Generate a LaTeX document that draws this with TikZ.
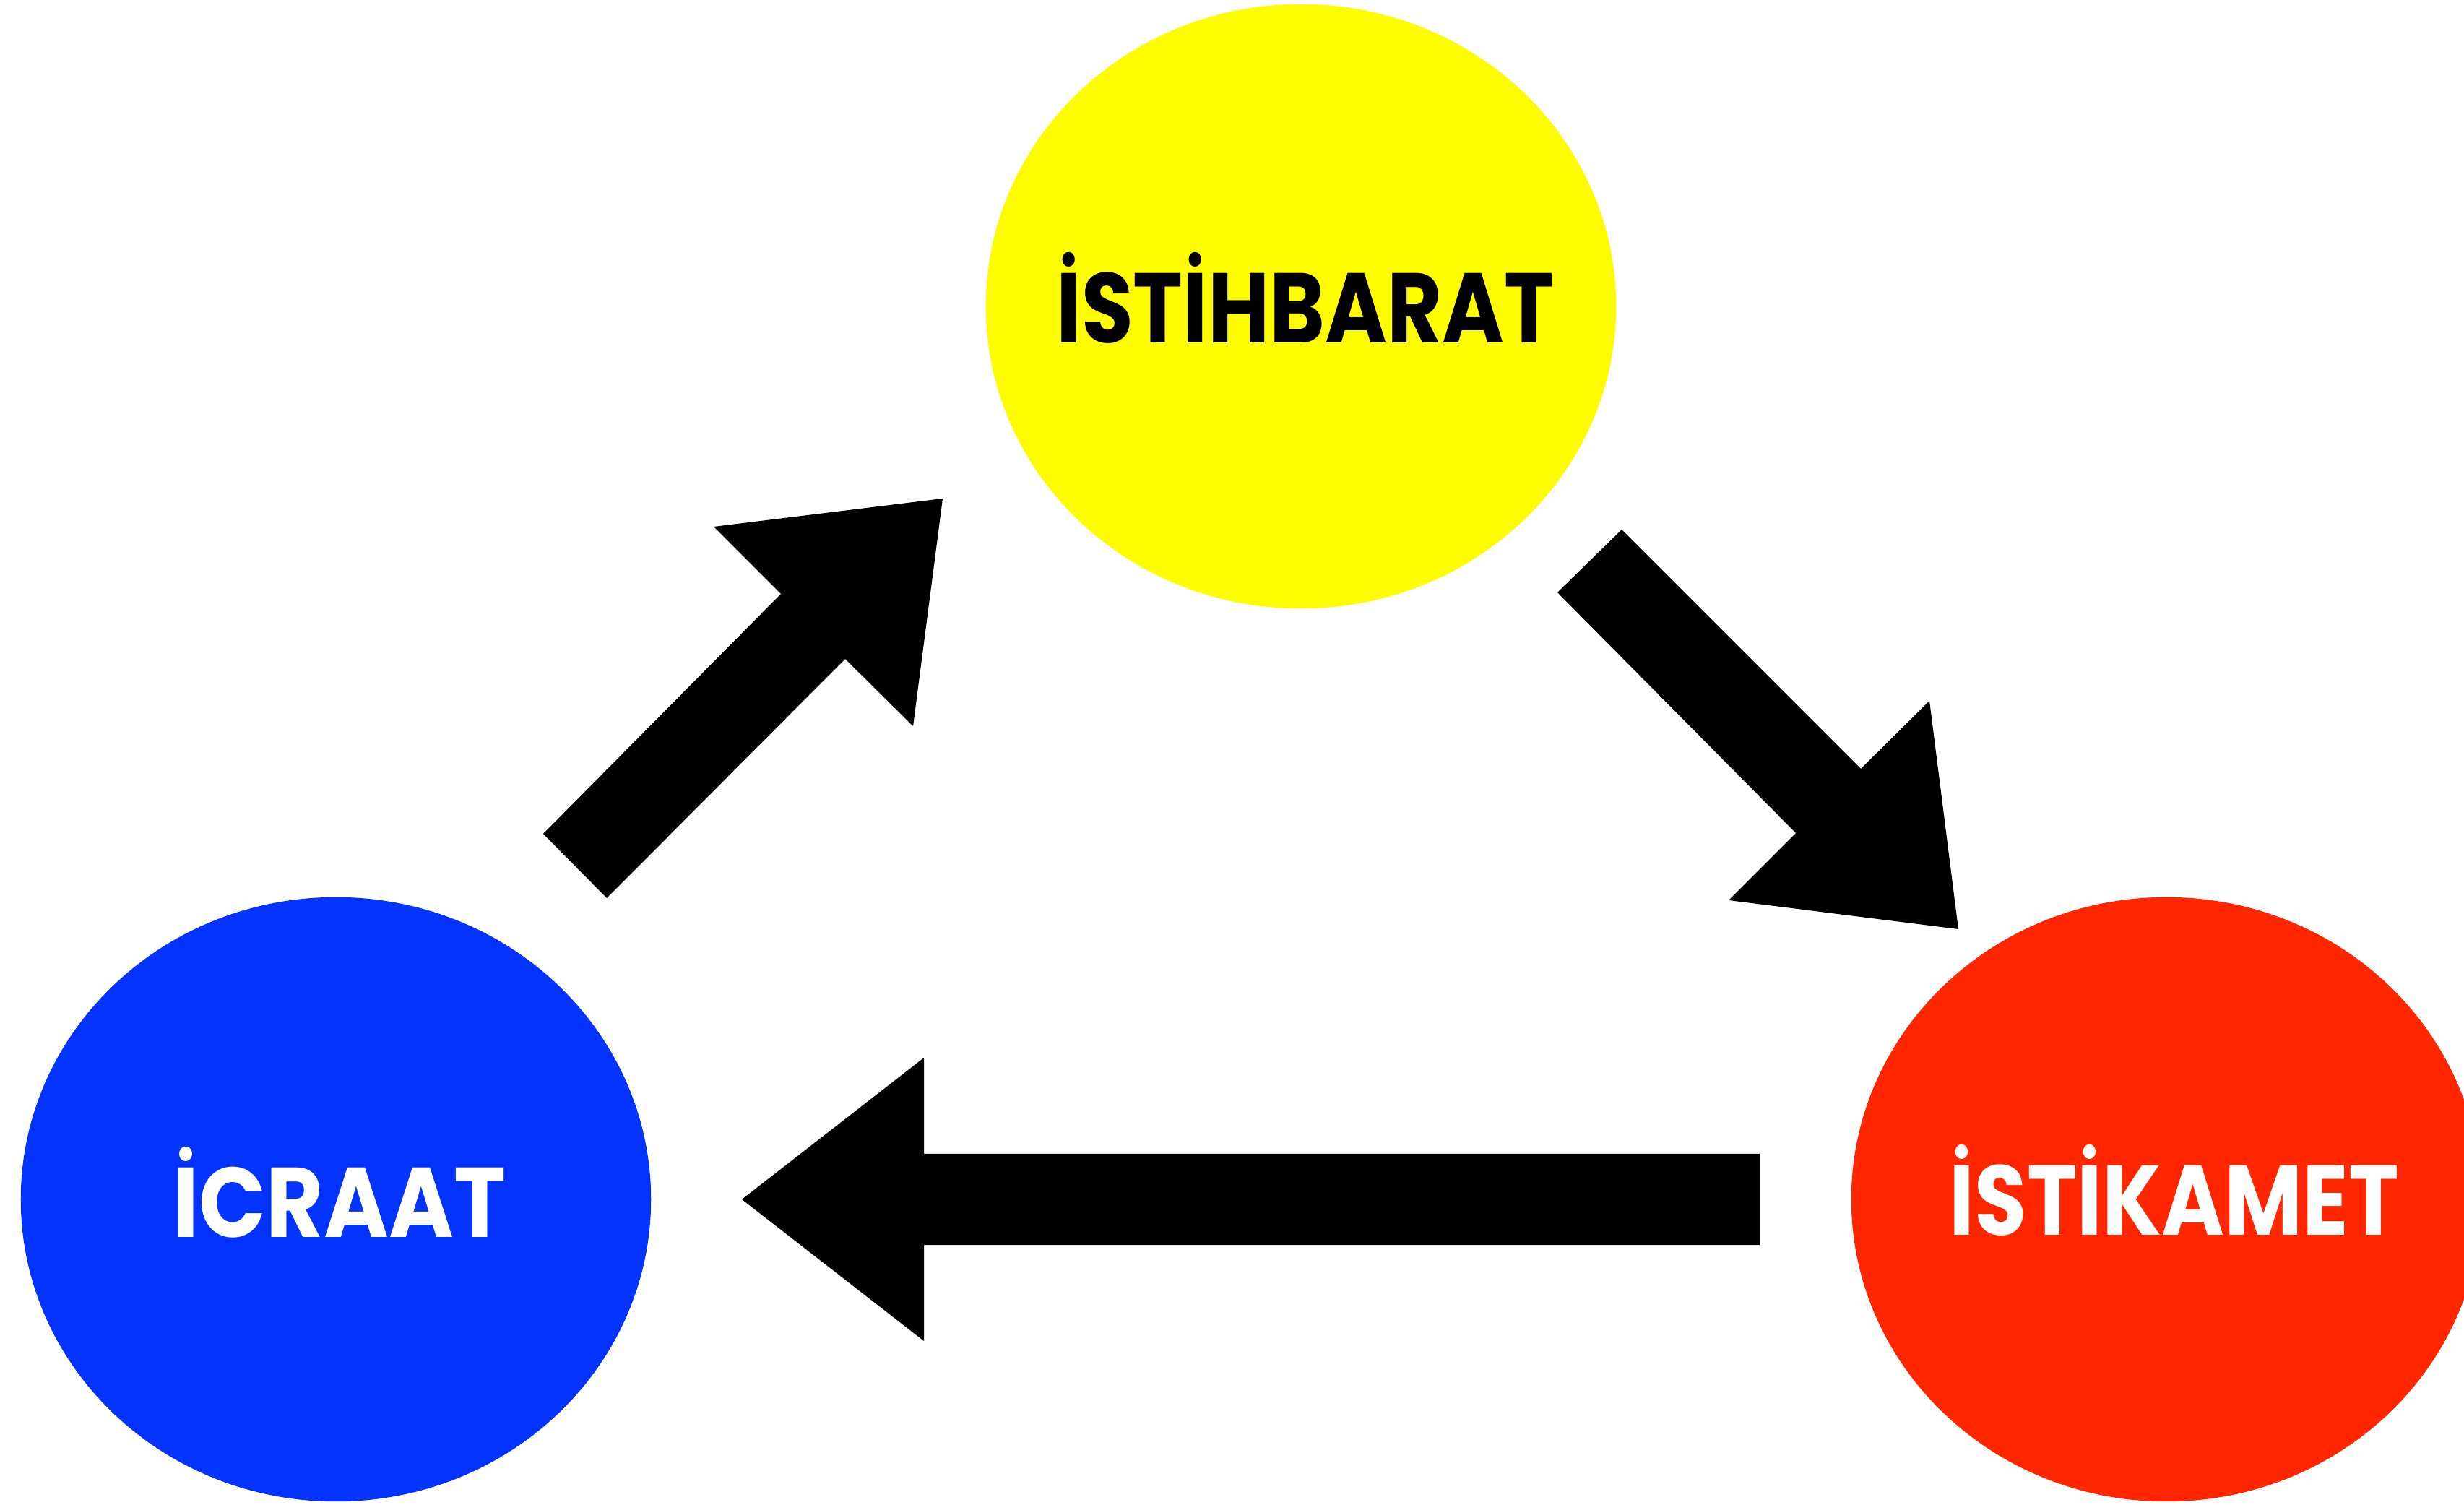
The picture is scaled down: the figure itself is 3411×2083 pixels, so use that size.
\documentclass[tikz,border=0pt]{standalone}
\usepackage{fontspec}
\newfontfamily\lblfont{Poppins}[BoldFont={* Bold}]
\usetikzlibrary{shapes.geometric}
\definecolor{cyellow}{HTML}{FFFC00}
\definecolor{cblue}{HTML}{0433FF}
\definecolor{cred}{HTML}{FF2600}
\newcommand{\lbltext}[2]{\resizebox{#1}{\height}{#2}}
\begin{document}
\begin{tikzpicture}[x=0.01cm,y=-0.01cm,
  blob/.style={ellipse, draw=none, inner sep=0pt, minimum width=8.72cm, minimum height=8.36cm},
  lbl/.style={anchor=base, inner sep=0pt, font=\lblfont\bfseries\fontsize{39}{39}\selectfont},
  blockarrow/.style={fill=black, draw=none}]
\useasboundingbox (0,0) rectangle (3411,2083);
\clip (0,0) rectangle (3411,2083);
% ellipses
\node[blob, fill=cyellow] (ist) at (1801,424) {};
\node[blob, fill=cblue] (icr) at (465,1660) {};
\node[blob, fill=cred] (ika) at (2999,1660) {};
% labels
\node[lbl, text=black] (istl) at (1807,475) {\lbltext{6.88cm}{İSTİHBARAT}};
\node[lbl, text=white] (icrl) at (470,1712) {\lbltext{4.60cm}{İCRAAT}};
\node[lbl, text=white] (ikal) at (3010,1710) {\lbltext{6.22cm}{İSTİKAMET}};
% block arrows
\fill[blockarrow] (752,1154) -- (1081,822) -- (988,729) -- (1305,690) -- (1264,1005) -- (1170,912) -- (840,1243) -- cycle;
\fill[blockarrow] (2156,820) -- (2245,733) -- (2576,1064) -- (2671,970) -- (2711,1286) -- (2393,1246) -- (2486,1153) -- cycle;
\fill[blockarrow] (2436,1597) -- (2436,1723) -- (1279,1723) -- (1279,1856) -- (1027,1660) -- (1279,1464) -- (1279,1597) -- cycle;
\end{tikzpicture}
\end{document}
